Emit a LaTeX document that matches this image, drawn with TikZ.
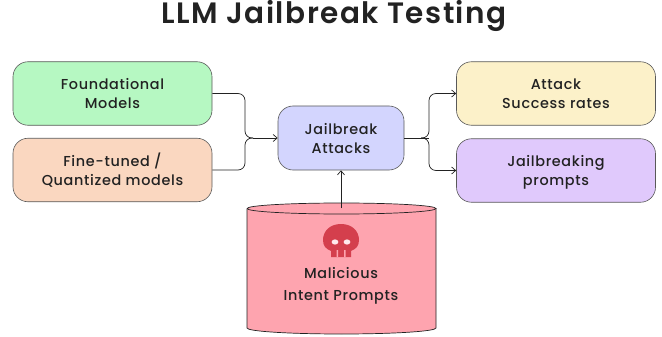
\documentclass[tikz,border=0pt]{standalone}
\usepackage{fontspec}
\setmainfont{Poppins Medium}[LetterSpace=4.5]
\newfontfamily\titlefont{Poppins SemiBold}[LetterSpace=5]
\usetikzlibrary{arrows.meta,calc}
\newcommand{\topline}{\rule{0pt}{17.3pt}}
\definecolor{gbox}{HTML}{B6F8C2}
\definecolor{pbox}{HTML}{FAD7C0}
\definecolor{bbox}{HTML}{D3D5FE}
\definecolor{ybox}{HTML}{FCF1C9}
\definecolor{vbox}{HTML}{E0C9FC}
\definecolor{cylf}{HTML}{FEA4AF}
\definecolor{skull}{HTML}{D43F4D}
\definecolor{ink}{HTML}{222222}
\tikzset{
  card/.style={draw=black!65,line width=0.6pt,rounded corners=15pt,minimum width=199pt,minimum height=63.5pt,align=center,font=\fontsize{14.4}{19}\selectfont\color{ink},inner sep=0pt},
  midcard/.style={card,minimum width=126pt,minimum height=64pt},
  link/.style={draw=ink,line width=0.7pt,rounded corners=7pt},
  tip/.style={-{Straight Barb[length=4pt,width=7pt]}}
}
\begin{document}
\begin{tikzpicture}[x=1pt,y=-1pt]
\useasboundingbox (0,0) rectangle (662,337);
\node[font=\fontsize{29.5}{34}\titlefont\color{ink}] (title) at (334,15.5) {LLM Jailbreak Testing};
\node[card,fill=gbox] (found) at (112.5,93.5) {\topline Foundational\\\strut Models};
\node[card,fill=pbox] (fine) at (112.5,170) {\topline Fine-tuned /\\\strut Quantized models};
\node[midcard,fill=bbox] (jail) at (341,138) {\topline Jailbreak\\\strut Attacks};
\node[card,fill=ybox] (rate) at (556,93.5) {\topline Attack\\\strut Success rates};
\node[card,fill=vbox] (prompts) at (556,170.5) {\topline Jailbreaking\\\strut prompts};
% cylinder
\path[fill=cylf] (247,208.5) arc[start angle=180,end angle=360,x radius=94.5,y radius=5.5] -- (436,328) arc[start angle=0,end angle=180,x radius=94.5,y radius=6] -- cycle;
\draw[draw=ink,line width=0.7pt] (247,208.5) arc[start angle=180,end angle=540,x radius=94.5,y radius=5.5];
\draw[draw=ink,line width=0.7pt] (247,208.5) -- (247,328) arc[start angle=180,end angle=0,x radius=94.5,y radius=6] -- (436,208.5);
\coordinate (cyltop) at (341,208);
\node[font=\fontsize{14.4}{22}\selectfont\color{ink},align=center,inner sep=0pt] (mal) at (341,285.5) {\strut Malicious\\\strut Intent Prompts};
% skull
\fill[skull] (341,224) .. controls (330,224) and (323,231) .. (323,240) .. controls (323,246) and (326,249) .. (331,251) -- (331,257) -- (351,257) -- (351,251) .. controls (356,249) and (359,246) .. (359,240) .. controls (359,231) and (352,224) .. (341,224) -- cycle;
\fill[white!75!cylf] (335,242) circle[x radius=3.4,y radius=2.6] (347,242) circle[x radius=3.4,y radius=2.6];
\fill[cylf] (336.5,250) rectangle (338,257) (344,250) rectangle (345.5,257);
% connectors
\coordinate (joinL) at (253,138);
\coordinate (joinR) at (429,138);
\draw[link] (found.east) -- (245,93.5) -- (245,138) -- (joinL);
\draw[link] (fine.east) -- (245,170) -- (245,138) -- (joinL);
\draw[link,tip] (joinL) -- (jail.west);
\draw[link] (jail.east) -- (429,138);
\draw[link,tip] (joinR) ++(-8,0) -- ++(8,0) |- (rate.west);
\draw[link,tip] (joinR) ++(-8,0) -- ++(8,0) |- (prompts.west);
\draw[link,tip] (cyltop) -- (jail.south);
\end{tikzpicture}
\end{document}
